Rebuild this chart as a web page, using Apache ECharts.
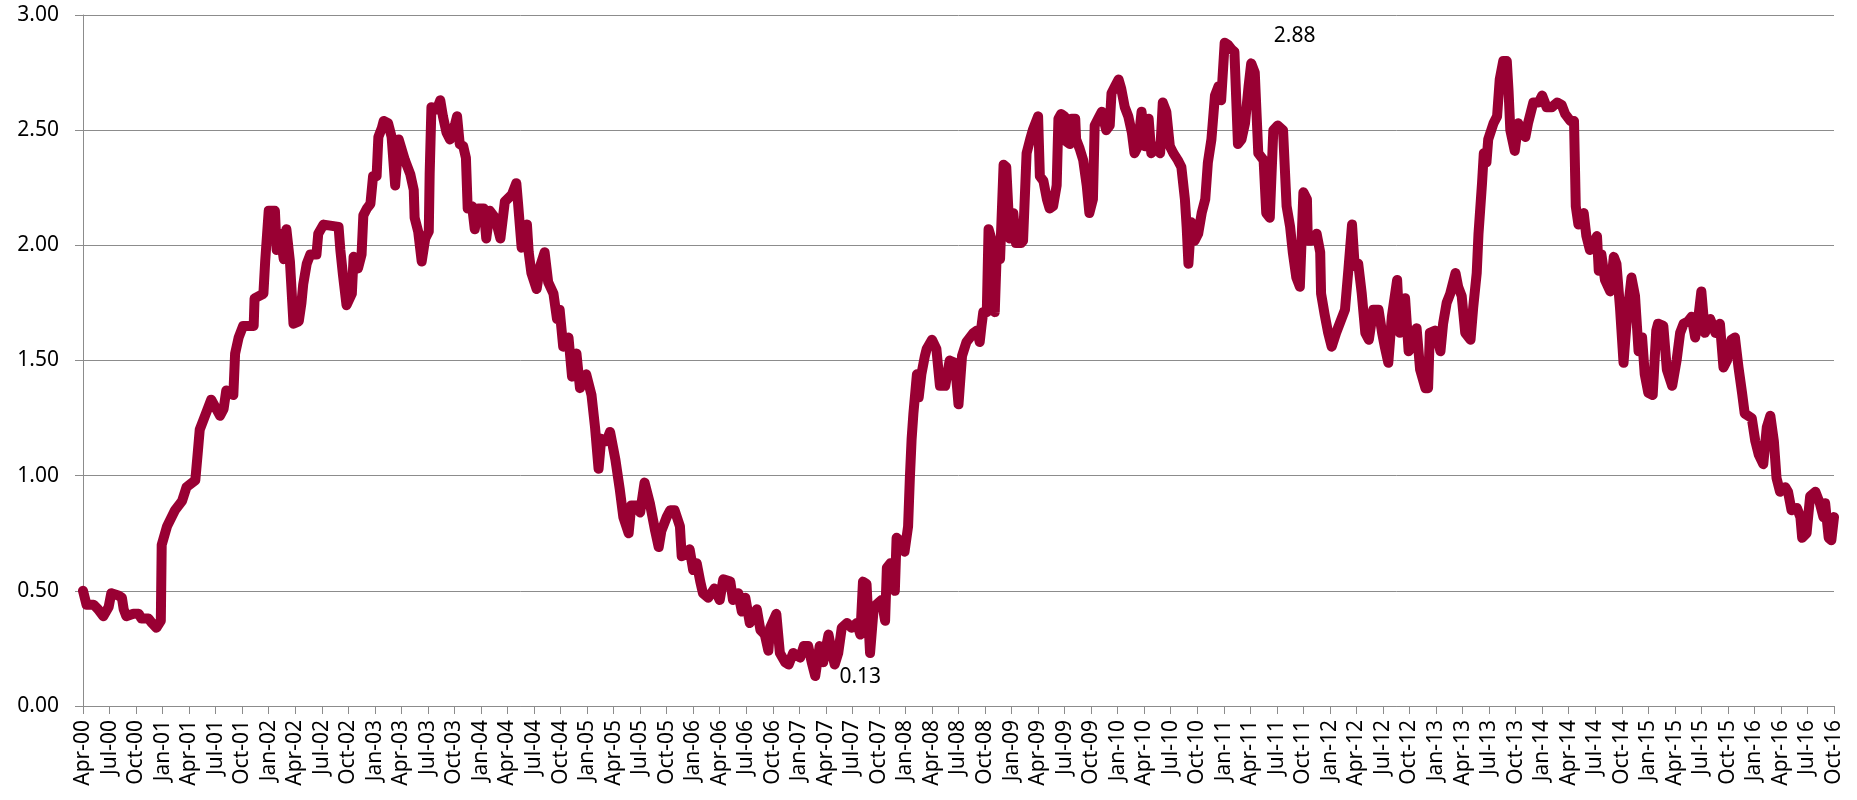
<!DOCTYPE html>
<html>
<head>
<meta charset="utf-8">
<script src="https://cdn.jsdelivr.net/npm/echarts@6/dist/echarts.min.js"></script>
<style>
  html, body { margin: 0; padding: 0; background: #fff; }
  #chart { width: 1857px; height: 800px; }
</style>
</head>
<body>
<div id="chart"></div>
<script>
// x position of each reading, in months since Apr-2000
const monthOffsets = [
  0, 0.4, 1.2, 1.7, 2.3, 2.9, 3.2, 4.0, 4.4, 4.6, 4.9, 5.7, 6.3, 6.6, 7.4, 7.8, 8.3, 8.8, 8.9, 9.5,
  10.4, 11.2, 11.7, 12.7, 13.0, 13.2, 13.8, 14.5, 15.5, 15.9, 16.2, 17.0, 17.2, 17.6, 18.1, 19.3, 19.4, 20.4, 20.6, 21.0,
  21.7, 21.9, 22.3, 22.7, 23.0, 23.4, 23.8, 24.4, 24.7, 24.9, 25.3, 25.7, 26.4, 26.6, 27.2, 28.9, 29.1, 29.4, 29.8, 30.4,
  30.6, 31.1, 31.5, 31.7, 32.1, 32.5, 32.8, 33.2, 33.4, 33.8, 34.0, 34.5, 34.9, 35.3, 35.7, 36.4, 37.0, 37.4, 37.5, 37.9,
  38.3, 38.7, 39.1, 39.2, 39.4, 40.0, 40.4, 40.7, 41.1, 41.5, 42.1, 42.3, 42.6, 43.0, 43.3, 43.5, 44.0, 44.3, 44.7, 45.3,
  45.6, 46.0, 46.6, 47.2, 47.7, 48.5, 49.0, 49.2, 49.6, 50.2, 50.4, 50.7, 51.3, 51.7, 52.2, 52.6, 53.2, 53.6, 53.9, 54.3,
  54.9, 55.3, 55.8, 56.2, 56.9, 57.5, 57.9, 58.3, 58.6, 59.2, 59.6, 60.2, 60.7, 61.1, 61.7, 62.0, 62.6, 63.0, 63.5, 64.1,
  64.7, 65.1, 65.4, 66.0, 66.4, 66.9, 67.5, 67.7, 68.3, 68.6, 69.0, 69.4, 69.8, 70.1, 70.7, 71.4, 72.0, 72.4, 73.2, 73.5,
  74.1, 74.5, 74.9, 75.4, 76.2, 76.6, 77.1, 77.5, 77.7, 78.4, 78.8, 79.4, 79.8, 80.3, 81.1, 81.5, 82.0, 82.4, 82.8, 83.3,
  83.7, 84.3, 84.7, 85.0, 85.4, 85.8, 86.4, 86.9, 87.5, 87.9, 88.2, 88.6, 89.0, 89.4, 89.7, 90.3, 90.7, 90.9, 91.3, 91.8,
  92.0, 92.6, 92.9, 93.3, 93.5, 93.7, 93.9, 94.3, 94.5, 94.8, 95.2, 95.4, 96.0, 96.5, 96.9, 97.5, 98.0, 98.6, 99.0, 99.4,
  99.9, 100.7, 101.1, 101.4, 101.6, 101.8, 102.2, 102.4, 102.7, 103.1, 103.3, 103.7, 104.1, 104.4, 104.8, 105.2, 105.5, 106.1, 106.3, 106.7,
  107.1, 107.4, 108.0, 108.2, 108.6, 109.0, 109.3, 109.7, 110.1, 110.3, 110.6, 111.0, 111.2, 111.6, 111.8, 112.2, 112.3, 112.7, 113.1, 113.5,
  113.8, 114.2, 114.4, 114.8, 115.2, 115.7, 116.1, 116.3, 116.7, 117.1, 117.4, 117.8, 118.2, 118.6, 118.9, 119.3, 119.7, 120.1, 120.5, 120.8,
  121.4, 121.8, 122.1, 122.5, 122.9, 123.3, 123.8, 124.2, 124.6, 124.8, 125.0, 125.3, 125.7, 126.1, 126.5, 126.9, 127.2, 127.6, 128.0, 128.4,
  128.7, 129.1, 129.5, 129.9, 130.2, 130.6, 131.0, 131.4, 131.8, 132.1, 132.5, 132.9, 133.5, 133.8, 134.2, 134.6, 135.1, 135.7, 136.1, 136.5,
  136.8, 137.2, 137.6, 138.0, 138.4, 138.5, 138.9, 139.5, 139.9, 140.0, 140.4, 140.8, 141.2, 141.7, 142.1, 142.7, 143.1, 143.5, 143.8, 144.2,
  144.6, 145.0, 145.4, 145.9, 146.5, 146.9, 147.2, 147.6, 148.0, 148.6, 148.9, 149.5, 149.9, 150.3, 150.8, 151.2, 151.8, 152.1, 152.3, 152.9,
  153.5, 153.8, 154.2, 154.6, 155.2, 155.5, 155.9, 156.3, 156.9, 157.2, 157.6, 157.8, 158.2, 158.4, 158.7, 158.9, 159.5, 159.9, 160.2, 160.6,
  161.0, 161.2, 161.4, 161.9, 162.3, 162.7, 163.1, 163.4, 164.0, 164.6, 165.0, 165.5, 166.1, 166.7, 167.2, 167.6, 168.2, 168.6, 168.8, 169.1,
  169.7, 170.0, 170.4, 171.2, 171.4, 171.7, 172.1, 172.7, 173.1, 173.4, 173.8, 174.2, 174.6, 175.1, 175.5, 175.9, 176.3, 176.6, 177.0, 177.5,
  177.9, 178.1, 178.7, 179.1, 179.7, 180.2, 180.6, 181.0, 181.5, 181.9, 182.3, 182.7, 183.0, 183.4, 184.0, 184.6, 185.1, 185.5, 185.9, 186.4,
  186.8, 187.2, 187.6, 187.9, 188.7, 189.1, 189.5, 190.0, 190.4, 190.8, 191.2, 191.5, 191.9, 192.5, 192.8, 193.2, 193.8, 194.2, 194.4, 194.9,
  195.3, 195.9, 196.4, 196.8, 197.0, 197.4, 197.7, 198.0
]

const rates = [
  0.50, 0.44, 0.44, 0.42, 0.39, 0.43, 0.49, 0.48, 0.47, 0.42, 0.39, 0.40, 0.40, 0.38, 0.38, 0.36, 0.34, 0.37, 0.70, 0.78,
  0.85, 0.89, 0.95, 0.98, 1.11, 1.20, 1.26, 1.33, 1.26, 1.29, 1.37, 1.35, 1.53, 1.60, 1.65, 1.65, 1.77, 1.79, 1.93, 2.15,
  2.15, 1.98, 2.05, 1.94, 2.07, 1.93, 1.66, 1.67, 1.75, 1.83, 1.92, 1.96, 1.96, 2.05, 2.09, 2.08, 1.98, 1.87, 1.74, 1.79,
  1.95, 1.90, 1.96, 2.13, 2.16, 2.18, 2.30, 2.30, 2.47, 2.51, 2.54, 2.53, 2.47, 2.26, 2.46, 2.37, 2.31, 2.24, 2.12, 2.06,
  1.93, 2.03, 2.06, 2.31, 2.60, 2.59, 2.63, 2.56, 2.49, 2.46, 2.53, 2.56, 2.44, 2.43, 2.38, 2.16, 2.17, 2.07, 2.16, 2.16,
  2.03, 2.15, 2.12, 2.03, 2.19, 2.22, 2.27, 2.18, 1.99, 2.09, 1.97, 1.88, 1.81, 1.91, 1.97, 1.84, 1.79, 1.68, 1.72, 1.56,
  1.60, 1.43, 1.53, 1.38, 1.44, 1.35, 1.21, 1.03, 1.16, 1.15, 1.19, 1.07, 0.94, 0.82, 0.75, 0.87, 0.87, 0.84, 0.97, 0.88,
  0.76, 0.69, 0.76, 0.82, 0.85, 0.85, 0.78, 0.65, 0.66, 0.68, 0.59, 0.62, 0.54, 0.49, 0.47, 0.51, 0.46, 0.55, 0.54, 0.46,
  0.49, 0.41, 0.47, 0.36, 0.42, 0.33, 0.31, 0.24, 0.34, 0.40, 0.23, 0.19, 0.18, 0.23, 0.21, 0.26, 0.26, 0.19, 0.13, 0.26,
  0.19, 0.31, 0.23, 0.18, 0.23, 0.34, 0.36, 0.34, 0.36, 0.31, 0.54, 0.53, 0.23, 0.42, 0.44, 0.46, 0.37, 0.60, 0.62, 0.50,
  0.73, 0.71, 0.67, 0.78, 0.99, 1.16, 1.27, 1.44, 1.34, 1.44, 1.52, 1.55, 1.59, 1.55, 1.39, 1.39, 1.50, 1.49, 1.31, 1.52,
  1.58, 1.62, 1.63, 1.58, 1.65, 1.71, 1.71, 2.07, 2.03, 1.71, 1.94, 1.94, 2.35, 2.34, 2.03, 2.14, 2.01, 2.01, 2.02, 2.40,
  2.46, 2.50, 2.56, 2.30, 2.28, 2.20, 2.16, 2.17, 2.26, 2.55, 2.57, 2.56, 2.45, 2.44, 2.55, 2.55, 2.46, 2.42, 2.37, 2.26,
  2.14, 2.20, 2.52, 2.55, 2.58, 2.50, 2.52, 2.66, 2.69, 2.72, 2.68, 2.60, 2.56, 2.49, 2.40, 2.43, 2.58, 2.43, 2.55, 2.40,
  2.43, 2.40, 2.62, 2.58, 2.43, 2.40, 2.37, 2.34, 2.20, 2.08, 1.92, 2.10, 2.02, 2.05, 2.14, 2.20, 2.36, 2.46, 2.65, 2.69,
  2.63, 2.88, 2.87, 2.85, 2.84, 2.44, 2.46, 2.53, 2.69, 2.79, 2.75, 2.40, 2.37, 2.14, 2.12, 2.50, 2.52, 2.50, 2.17, 2.08,
  1.97, 1.86, 1.82, 2.23, 2.20, 2.02, 2.02, 2.05, 1.97, 1.79, 1.70, 1.62, 1.56, 1.62, 1.66, 1.72, 1.90, 2.09, 1.91, 1.92,
  1.79, 1.62, 1.59, 1.72, 1.72, 1.62, 1.56, 1.49, 1.69, 1.85, 1.62, 1.77, 1.54, 1.56, 1.64, 1.46, 1.38, 1.38, 1.62, 1.63,
  1.54, 1.66, 1.75, 1.79, 1.88, 1.82, 1.78, 1.62, 1.59, 1.73, 1.88, 2.05, 2.27, 2.40, 2.36, 2.46, 2.53, 2.56, 2.72, 2.80,
  2.80, 2.67, 2.50, 2.41, 2.53, 2.49, 2.47, 2.53, 2.62, 2.62, 2.65, 2.60, 2.60, 2.62, 2.61, 2.57, 2.54, 2.54, 2.17, 2.09,
  2.14, 2.04, 1.98, 2.04, 1.89, 1.96, 1.85, 1.80, 1.95, 1.92, 1.73, 1.49, 1.69, 1.86, 1.78, 1.54, 1.60, 1.44, 1.36, 1.35,
  1.63, 1.66, 1.65, 1.46, 1.39, 1.50, 1.62, 1.66, 1.67, 1.69, 1.60, 1.70, 1.80, 1.62, 1.68, 1.62, 1.66, 1.47, 1.50, 1.59,
  1.60, 1.47, 1.36, 1.27, 1.25, 1.15, 1.09, 1.05, 1.21, 1.26, 1.15, 0.99, 0.93, 0.95, 0.93, 0.85, 0.86, 0.82, 0.73, 0.75,
  0.91, 0.93, 0.88, 0.82, 0.88, 0.73, 0.72, 0.82
]

// one label per quarter, starting at Apr-00 (month 0)
const tickLabels = [
  'Apr-00', 'Jul-00', 'Oct-00', 'Jan-01', 'Apr-01', 'Jul-01', 'Oct-01', 'Jan-02', 'Apr-02', 'Jul-02', 'Oct-02',
  'Jan-03', 'Apr-03', 'Jul-03', 'Oct-03', 'Jan-04', 'Apr-04', 'Jul-04', 'Oct-04', 'Jan-05', 'Apr-05', 'Jul-05', 'Oct-05',
  'Jan-06', 'Apr-06', 'Jul-06', 'Oct-06', 'Jan-07', 'Apr-07', 'Jul-07', 'Oct-07', 'Jan-08', 'Apr-08', 'Jul-08', 'Oct-08',
  'Jan-09', 'Apr-09', 'Jul-09', 'Oct-09', 'Jan-10', 'Apr-10', 'Jul-10', 'Oct-10', 'Jan-11', 'Apr-11', 'Jul-11', 'Oct-11',
  'Jan-12', 'Apr-12', 'Jul-12', 'Oct-12', 'Jan-13', 'Apr-13', 'Jul-13', 'Oct-13', 'Jan-14', 'Apr-14', 'Jul-14', 'Oct-14',
  'Jan-15', 'Apr-15', 'Jul-15', 'Oct-15', 'Jan-16', 'Apr-16', 'Jul-16', 'Oct-16'
]

const FONT = '"Noto Sans", sans-serif'
const GRAY = '#8c8c8c'

const chart = echarts.init(document.getElementById('chart'))

const option = {
  animation: false,
  backgroundColor: '#fff',
  grid: {left: 83, right: 23, top: 15, bottom: 94, containLabel: false},
  xAxis: {
    type: 'value',
    min: 0,
    max: 198,
    interval: 3,
    axisLine: {show: true, onZero: false, lineStyle: {color: GRAY, width: 1}},
    axisTick: {show: true, length: 8, lineStyle: {color: GRAY}},
    splitLine: {show: false},
    axisLabel: {
      rotate: 90,
      margin: 14,
      color: '#000',
      fontFamily: FONT,
      fontSize: 21,
      showMinLabel: true,
      showMaxLabel: true,
      formatter: (v) => tickLabels[Math.round(v / 3)] || ''
    }
  },
  yAxis: {
    type: 'value',
    min: 0,
    max: 3,
    interval: 0.5,
    axisLine: {show: true, lineStyle: {color: GRAY, width: 1}},
    axisTick: {show: true, length: 8, lineStyle: {color: GRAY}},
    splitLine: {show: true, lineStyle: {color: GRAY, width: 1}},
    axisLabel: {
      margin: 24,
      color: '#000',
      fontFamily: FONT,
      fontSize: 21,
      formatter: (v) => v.toFixed(2)
    }
  },
  series: [
    {
      type: 'line',
      data: monthOffsets.map((m, i) => [m, rates[i]]),
      showSymbol: false,
      symbol: 'none',
      lineStyle: {color: '#990033', width: 10, join: 'round', cap: 'round'},
      itemStyle: {color: '#990033'},
      markPoint: {
        symbol: 'circle',
        symbolSize: 0,
        label: {
          show: true,
          position: 'inside',
          color: '#000',
          fontFamily: FONT,
          fontSize: 21,
          formatter: (p) => p.value.toFixed(2)
        },
        data: [
          {type: 'max', label: {offset: [70, -7]}},
          {type: 'min', label: {offset: [45, 1]}}
        ]
      }
    }
  ]
}

chart.setOption(option)
</script>
</body>
</html>
